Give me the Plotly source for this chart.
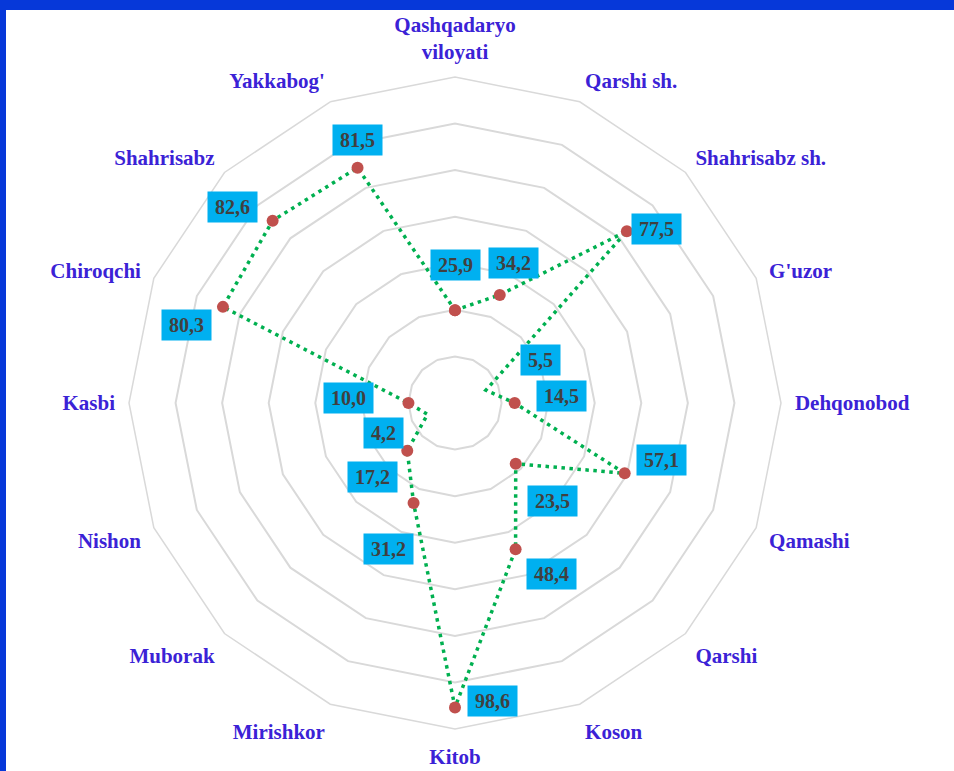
import math
import plotly.graph_objects as go

# Districts of Qashqadaryo region, clockwise from the top
categories = [
    "Qashqadaryo<br>viloyati", "Qarshi sh.", "Shahrisabz sh.", "G'uzor",
    "Dehqonobod", "Qamashi", "Qarshi", "Koson", "Kitob", "Mirishkor",
    "Muborak", "Nishon", "Kasbi", "Chiroqchi", "Shahrisabz", "Yakkabog'",
]
values = [25.9, 34.2, 77.5, 5.5, 14.5, 57.1, 23.5, 48.4,
          98.6, 31.2, 17.2, 4.2, 10.0, 80.3, 82.6, 81.5]

# Radial scale and rings
r_range = [-6, 106]
ring_vals = [10, 26, 42, 58, 74, 90]

# Label box offsets from each point (px, right / down)
label_offsets = [
    (0, -45), (14, -32), (30, -2), (55, -30), (47, -7), (37, -13),
    (37, 37), (36, 25), (37, -6), (-25, 46), (-35, 26), (-44, 19),
    (-60, -5), (-36, 18), (-40, -14), (0, -28),
]

W, H = 954, 771
ML, MR, MT, MB = 129, 173, 77, 42
side = W - ML - MR  # square plot area

LABEL_COLOR = "#3B22D6"
GRID = "#D9D9D9"

fig = go.Figure()
fig.add_trace(go.Scatterpolar(
    r=values + values[:1],
    theta=categories + categories[:1],
    mode="lines+markers",
    line=dict(color="#00B050", width=3.5, dash="3.5px,4.5px"),
    marker=dict(color="#C0504D", size=12),
    hoverinfo="skip",
    showlegend=False,
))

# Value labels in blue boxes
annotations = []
n = len(categories)
for i, (v, (dx, dy)) in enumerate(zip(values, label_offsets)):
    ang = math.radians(360.0 * i / n)
    frac = (v - r_range[0]) / (r_range[1] - r_range[0])
    x = 0.5 + 0.5 * frac * math.sin(ang)
    y = 0.5 + 0.5 * frac * math.cos(ang)
    txt = f"{v:.1f}".replace(".", ",")
    annotations.append(dict(
        x=x, y=y, xref="paper", yref="paper", text=txt, showarrow=False,
        xanchor="center", yanchor="middle", xshift=dx, yshift=-dy,
        bgcolor="#00B0F0", borderpad=2,
        width=45 if len(txt) > 3 else 35, height=26,
        font=dict(family="Liberation Serif", size=20, color="#404040", weight="bold"),
    ))

# Blue frame along the top and left edges
px_x = 1.0 / side
px_y = 1.0 / side
shapes = [
    dict(type="rect", xref="paper", yref="paper", line_width=0, fillcolor="#0638D9",
         x0=-ML * px_x, x1=(W - ML) * px_x, y0=1 + (MT - 10) * px_y, y1=1 + MT * px_y),
    dict(type="rect", xref="paper", yref="paper", line_width=0, fillcolor="#0638D9",
         x0=-ML * px_x, x1=-(ML - 6) * px_x, y0=-MB * px_y, y1=1 + MT * px_y),
]

fig.update_layout(
    width=W, height=H,
    margin=dict(l=ML, r=MR, t=MT, b=MB),
    paper_bgcolor="white",
    plot_bgcolor="white",
    annotations=annotations,
    shapes=shapes,
    polar=dict(
        domain=dict(x=[0, 1], y=[0, 1]),
        bgcolor="white",
        gridshape="linear",
        radialaxis=dict(
            range=r_range, tickvals=ring_vals, showticklabels=False,
            ticks="", showline=False, gridcolor=GRID, gridwidth=1.5,
        ),
        angularaxis=dict(
            rotation=90, direction="clockwise",
            # invisible ticks push the category names away from the outer ring
            ticks="outside", ticklen=9, tickcolor="rgba(0,0,0,0)",
            showgrid=False, showline=True, linecolor=GRID, linewidth=1.5,
            tickfont=dict(family="Liberation Serif", size=21, color=LABEL_COLOR, weight="bold"),
        ),
    ),
)

fig.write_html("out.html")
